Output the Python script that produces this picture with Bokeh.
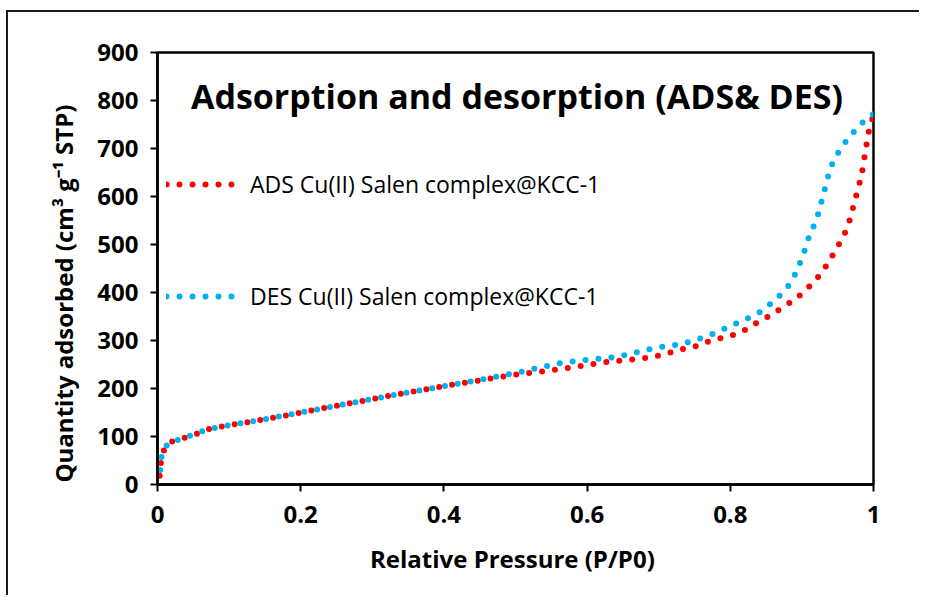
from bokeh.plotting import figure
from bokeh.models import Range1d, FixedTicker, Legend, LegendItem, Label, Title
from bokeh.embed import file_html
from bokeh.resources import INLINE

# ---- data ----
P_ads = [0.003, 0.004, 0.005, 0.006, 0.015, 0.033, 0.052, 0.07, 0.09, 0.11, 0.13, 0.15,
         0.18, 0.2, 0.25, 0.3, 0.35, 0.4, 0.45, 0.5, 0.54, 0.58, 0.62, 0.66, 0.69, 0.71,
         0.73, 0.75, 0.77, 0.79, 0.81, 0.825, 0.84, 0.857, 0.873, 0.89, 0.904, 0.918, 0.93,
         0.94, 0.95, 0.959, 0.966, 0.971, 0.976, 0.981, 0.985, 0.988, 0.991, 0.994, 0.999]
Q_ads = [18, 35, 50, 63, 87, 95, 104, 115, 121, 126, 131, 136,
         144, 150, 164, 178, 192, 205, 217, 229, 236, 244, 254, 260, 265, 272,
         281, 287, 298, 306, 314, 325, 340, 353, 369, 385, 403, 424, 446,
         470, 496, 520, 547, 575, 603, 631, 658, 688, 715, 740, 765]

P_des = [0.999, 0.984, 0.971, 0.959, 0.948, 0.94, 0.935, 0.93, 0.925, 0.92, 0.911, 0.906,
         0.899, 0.892, 0.883, 0.87, 0.856, 0.841, 0.824, 0.806, 0.788, 0.77, 0.751, 0.733,
         0.714, 0.696, 0.678, 0.659, 0.637, 0.6, 0.563, 0.526, 0.5, 0.45, 0.4, 0.35, 0.3,
         0.25, 0.2, 0.15, 0.11, 0.07, 0.033, 0.015, 0.006, 0.005, 0.004, 0.003]
Q_des = [771, 753, 732, 710, 685, 660, 633, 604, 576, 549, 522, 496,
         468, 442, 417, 395, 376, 359, 346, 334, 322, 310, 301, 293,
         289, 285, 279, 271, 265, 260, 253, 241, 232, 218, 205, 192, 178,
         164, 150, 136, 126, 115, 95, 87, 63, 50, 35, 18]

x_ticks = [0, 0.2, 0.4, 0.6, 0.8, 1]
x_tick_labels = ["0", "0.2", "0.4", "0.6", "0.8", "1"]
y_ticks = [0, 100, 200, 300, 400, 500, 600, 700, 800, 900]

title_text = "Adsorption and desorption (ADS& DES)"
ads_label = "ADS Cu(II) Salen complex@KCC-1"
des_label = "DES Cu(II) Salen complex@KCC-1"
x_label = "Relative  Pressure (P/P0)"
y_label = "Quantity  adsorbed (cm\u00b3 g\u207b\u00b9 STP)"

FONT = "Open Sans"
RED = "#FF0000"
BLUE = "#00B0F0"

p = figure(width=913, height=585, output_backend="svg", toolbar_location=None,
           x_range=Range1d(0, 1), y_range=Range1d(0, 900),
           min_border_left=149, min_border_right=48, min_border_top=40, min_border_bottom=113)
p.styles = {"margin-left": "6px", "margin-top": "10px",
            "border-left": "2px solid #1a1a1a", "border-top": "2px solid #1a1a1a"}

p.xgrid.visible = False
p.ygrid.visible = False
p.outline_line_color = "black"
p.outline_line_width = 2.5
p.outline_line_alpha = 1

for ax in (p.xaxis[0], p.yaxis[0]):
    ax.axis_line_width = 2.5
    ax.axis_line_color = "black"
    ax.major_tick_line_width = 2
    ax.major_tick_line_color = "black"
    ax.major_tick_out = 7
    ax.major_tick_in = 0
    ax.minor_tick_line_color = None
    ax.major_label_text_font = FONT
    ax.major_label_text_font_style = "bold"
    ax.major_label_text_font_size = "24px"
    ax.major_label_text_color = "black"
    ax.axis_label_text_font = FONT
    ax.axis_label_text_font_style = "bold"
    ax.axis_label_text_color = "black"

p.xaxis.ticker = FixedTicker(ticks=x_ticks)
p.xaxis.major_label_overrides = {t: s for t, s in zip(x_ticks, x_tick_labels)}
p.xaxis.major_label_standoff = 14
p.xaxis.axis_label = x_label
p.xaxis.axis_label_text_font_size = "24px"
p.xaxis.axis_label_standoff = 16

p.yaxis.ticker = FixedTicker(ticks=y_ticks)
p.yaxis.major_label_standoff = 12

# y-axis title, aligned to the bottom of the frame as in the reference
p.add_layout(Title(text=y_label, align="left", offset=2, standoff=30,
                   text_font=FONT, text_font_style="bold", text_font_size="24px",
                   text_color="black"), "left")

r_ads = p.line(P_ads, Q_ads, line_color=RED, line_width=6, line_dash="0 13", line_cap="round")
r_des = p.line(P_des, Q_des, line_color=BLUE, line_width=6, line_dash="0 13", line_cap="round")

legend = Legend(items=[LegendItem(label=ads_label, renderers=[r_ads]),
                       LegendItem(label=des_label, renderers=[r_des])],
                location=(9, 172), padding=0, margin=0, spacing=80,
                glyph_width=74, glyph_height=32, label_height=32, label_standoff=10,
                label_text_font=FONT, label_text_font_size="23px", label_text_color="black",
                border_line_color=None, background_fill_alpha=0)
p.add_layout(legend, "center")

p.add_layout(Label(x=0.502, y=810, text=title_text, text_align="center", text_baseline="middle",
                   text_font=FONT, text_font_style="bold", text_font_size="34px", text_color="black"))

open("out.html", "w").write(file_html(p, INLINE))
